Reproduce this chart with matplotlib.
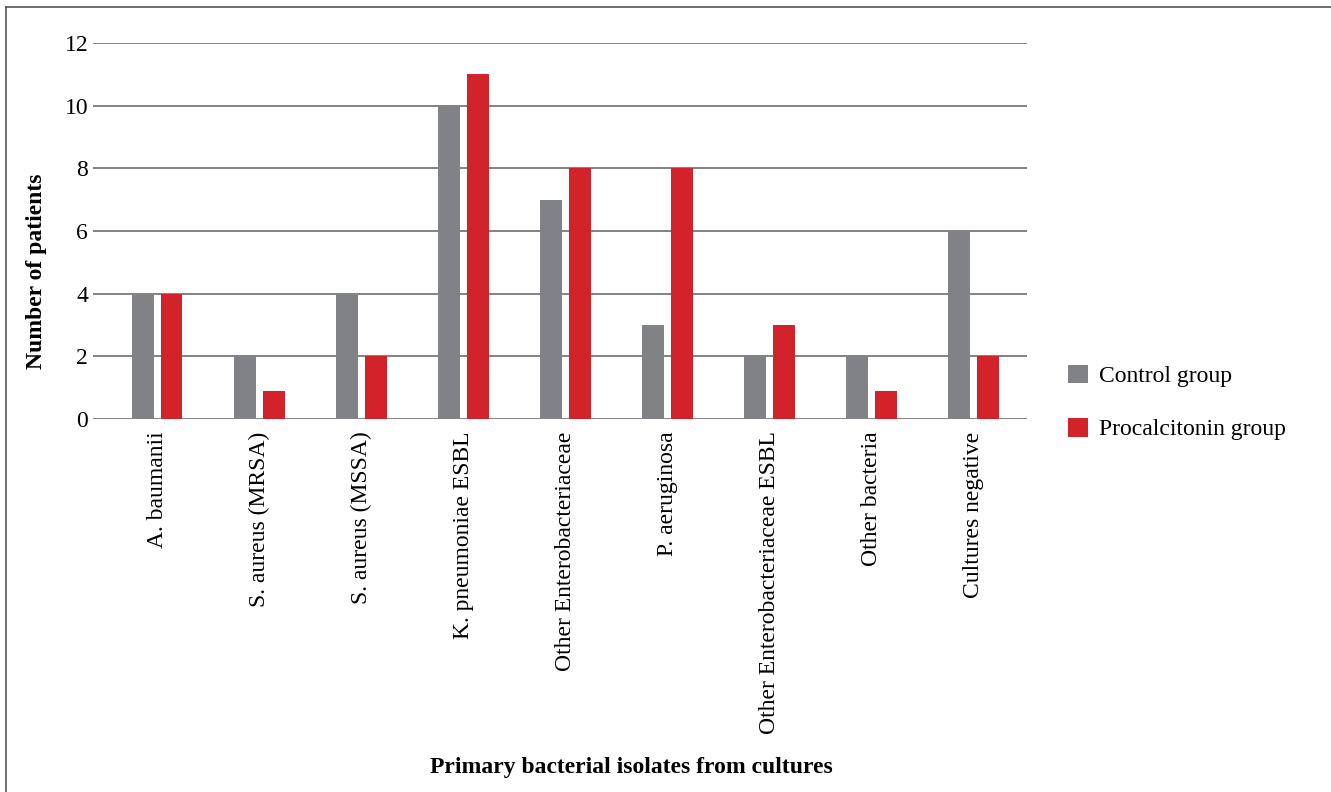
import numpy as np
import matplotlib.pyplot as plt
from matplotlib.lines import Line2D

categories = ["A. baumanii", "S. aureus (MRSA)", "S. aureus (MSSA)", "K. pneumoniae ESBL",
              "Other Enterobacteriaceae", "P. aeruginosa", "Other Enterobacteriaceae ESBL",
              "Other bacteria", "Cultures negative"]
control = [4, 2, 4, 10, 7, 3, 2, 2, 6]
procalcitonin = [4, 0.9, 2, 11, 8, 8, 3, 0.9, 2]
yticks = [0, 2, 4, 6, 8, 10, 12]

gray = "#818286"
red = "#d2222a"

plt.rcParams['font.family'] = ['Liberation Serif', 'DejaVu Serif']

fig = plt.figure(figsize=(13.31, 7.92), dpi=100)
ax = fig.add_axes([93 / 1331, 1 - 419 / 792, (1027 - 93) / 1331, (419 - 43) / 792])

x = np.arange(len(categories))
w = 0.215
off = 0.142
ax.bar(x - off, control, w, color=gray, zorder=3, label="Control group")
ax.bar(x + off, procalcitonin, w, color=red, zorder=3, label="Procalcitonin group")

ax.set_ylim(0, 12)
ax.set_xlim(-0.627, 8.52)
ax.set_yticks(yticks)
ax.set_yticklabels([str(v) for v in yticks], fontsize=17)
for v in yticks:
    ax.axhline(v, color="#6d6d6d", lw=1.2, zorder=1)

ax.set_xticks(x)
ax.set_xticklabels(categories, rotation=90, fontsize=17, va="top", ha="center")
ax.tick_params(axis="both", length=0)
ax.tick_params(axis="x", pad=9)
ax.tick_params(axis="y", pad=3.5)
for s in ax.spines.values():
    s.set_visible(False)

ax.set_ylabel("Number of patients", fontsize=17, fontweight="bold")
ax.yaxis.set_label_coords(-0.049, 0.394)
fig.text(631 / 1331, 1 - 767 / 792, "Primary bacterial isolates from cultures",
         fontsize=17, fontweight="bold", ha="center", va="center")

ax.legend(loc="center left", bbox_to_anchor=(1.044, 0.044), frameon=False, fontsize=17,
          handlelength=0.85, handleheight=0.85, labelspacing=1.3, handletextpad=0.45,
          borderaxespad=0, borderpad=0)

# figure frame (top and left only)
fig.add_artist(Line2D([6 / 1331, 6 / 1331], [0, 1 - 7 / 792], transform=fig.transFigure,
                      color="#555555", lw=1.2))
fig.add_artist(Line2D([6 / 1331, 1], [1 - 7 / 792, 1 - 7 / 792], transform=fig.transFigure,
                      color="#555555", lw=1.2))

fig.savefig("out.png", dpi=100)
